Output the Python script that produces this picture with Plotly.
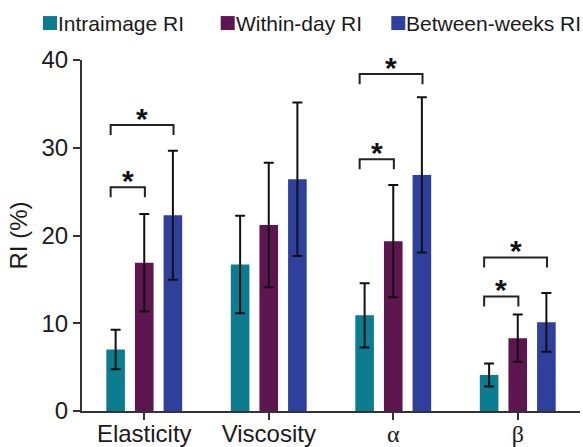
import plotly.graph_objects as go

# ---------------- data ----------------
categories = ["Elasticity", "Viscosity", "α", "β"]
series_names = ["Intraimage RI", "Within-day RI", "Between-weeks RI"]
intraimage = [7.0, 16.7, 10.9, 4.1]
intraimage_err = [2.25, 5.55, 3.65, 1.3]
within_day = [16.9, 21.2, 19.35, 8.3]
within_day_err = [5.55, 7.1, 6.4, 2.7]
between_weeks = [22.3, 26.4, 26.9, 10.1]
between_weeks_err = [7.35, 8.75, 8.85, 3.35]
y_ticks = [0, 10, 20, 30, 40]
# significant comparisons: (category index, series a, series b, bracket level in RI %)
significance = [
    (0, 0, 1, 25.5), (0, 0, 2, 32.6),
    (2, 0, 1, 28.7), (2, 0, 2, 38.4),
    (3, 0, 1, 13.05), (3, 0, 2, 17.5),
]

# ---------------- style ----------------
colors = ["#0c7d90", "#5e1650", "#2f3f9c"]
FONT = "Liberation Sans, Arial, Helvetica, sans-serif"
W, H = 583, 447
ML, MR, MT, MB = 82, 3, 60, 35.5
BARGAP, GROUPGAP = 0.31, 0.35
slot = (1 - BARGAP) / 3
offsets = [-slot, 0.0, slot]

values = [intraimage, within_day, between_weeks]
errors = [intraimage_err, within_day_err, between_weeks_err]

fig = go.Figure()
for name, v, e, c in zip(series_names, values, errors, colors):
    fig.add_trace(go.Bar(
        name=name, x=categories, y=v, marker=dict(color=c, line=dict(width=0)),
        error_y=dict(type="data", array=e, visible=True, color="#111111",
                     thickness=2, width=5),
        showlegend=False,
    ))

# tick labels (Greek letters in a serif face)
def fmt(lbl):
    if len(lbl) == 1 and "\u0370" <= lbl <= "\u03ff":
        return '<span style="font-family:Liberation Serif">' + lbl + "</span>"
    return lbl

shapes = []
annotations = []
LEG = 1.15
for ci, a, b, lvl in significance:
    x0 = ci + offsets[a] - 0.04
    x1 = ci + offsets[b] + 0.005
    shapes.append(dict(
        type="path", xref="x", yref="y",
        path=f"M {x0},{lvl-LEG} L {x0},{lvl} L {x1},{lvl} L {x1},{lvl-LEG}",
        line=dict(color="#222222", width=2),
    ))
    annotations.append(dict(
        x=(x0 + x1) / 2, y=lvl, xref="x", yref="y", text="<b>*</b>", showarrow=False,
        yanchor="bottom", xanchor="center", yshift=-12,
        font=dict(family=FONT, size=30, color="#111111"),
    ))

# manual legend (square immediately followed by label)
pw = W - ML - MR
ph = H - MT - MB
def px2x(p):
    return (p - ML) / pw
def px2y(p):
    return (H - MB - p) / ph

legend_left = [43, 220.7, 391.3]
for name, c, lx in zip(series_names, colors, legend_left):
    shapes.append(dict(
        type="rect", xref="paper", yref="paper",
        x0=px2x(lx), x1=px2x(lx + 14), y0=px2y(30), y1=px2y(16),
        fillcolor=c, line=dict(width=0),
    ))
    annotations.append(dict(
        x=px2x(lx + 14), y=px2y(23), xref="paper", yref="paper",
        text=name, showarrow=False, xanchor="left", yanchor="middle",
        font=dict(family=FONT, size=21, color="#1a1a1a"), borderpad=0,
    ))

fig.update_layout(
    width=W, height=H,
    margin=dict(l=ML, r=MR, t=MT, b=MB, pad=0, autoexpand=False),
    paper_bgcolor="white", plot_bgcolor="white",
    barmode="group", bargap=BARGAP, bargroupgap=GROUPGAP,
    font=dict(family=FONT, color="#1a1a1a"),
    shapes=shapes, annotations=annotations,
    showlegend=False,
)
fig.update_xaxes(
    tickmode="array", tickvals=categories, ticktext=[fmt(c) for c in categories],
    showline=True, linecolor="#333333", linewidth=2,
    ticks="outside", ticklen=7, tickwidth=2, tickcolor="#333333",
    ticklabelstandoff=-7,
    tickfont=dict(family=FONT, size=24, color="#1a1a1a"),
    showgrid=False, zeroline=False, automargin=False,
)
fig.update_yaxes(
    range=[0, 40], tickmode="array", tickvals=y_ticks,
    showline=True, linecolor="#333333", linewidth=2,
    ticks="outside", ticklen=7, tickwidth=2, tickcolor="#333333",
    tickfont=dict(family=FONT, size=24, color="#1a1a1a"),
    showgrid=False, zeroline=False, automargin=False,
    title=dict(text="RI (%)", font=dict(family=FONT, size=24, color="#1a1a1a"), standoff=7),
)

fig.write_html("out.html")
